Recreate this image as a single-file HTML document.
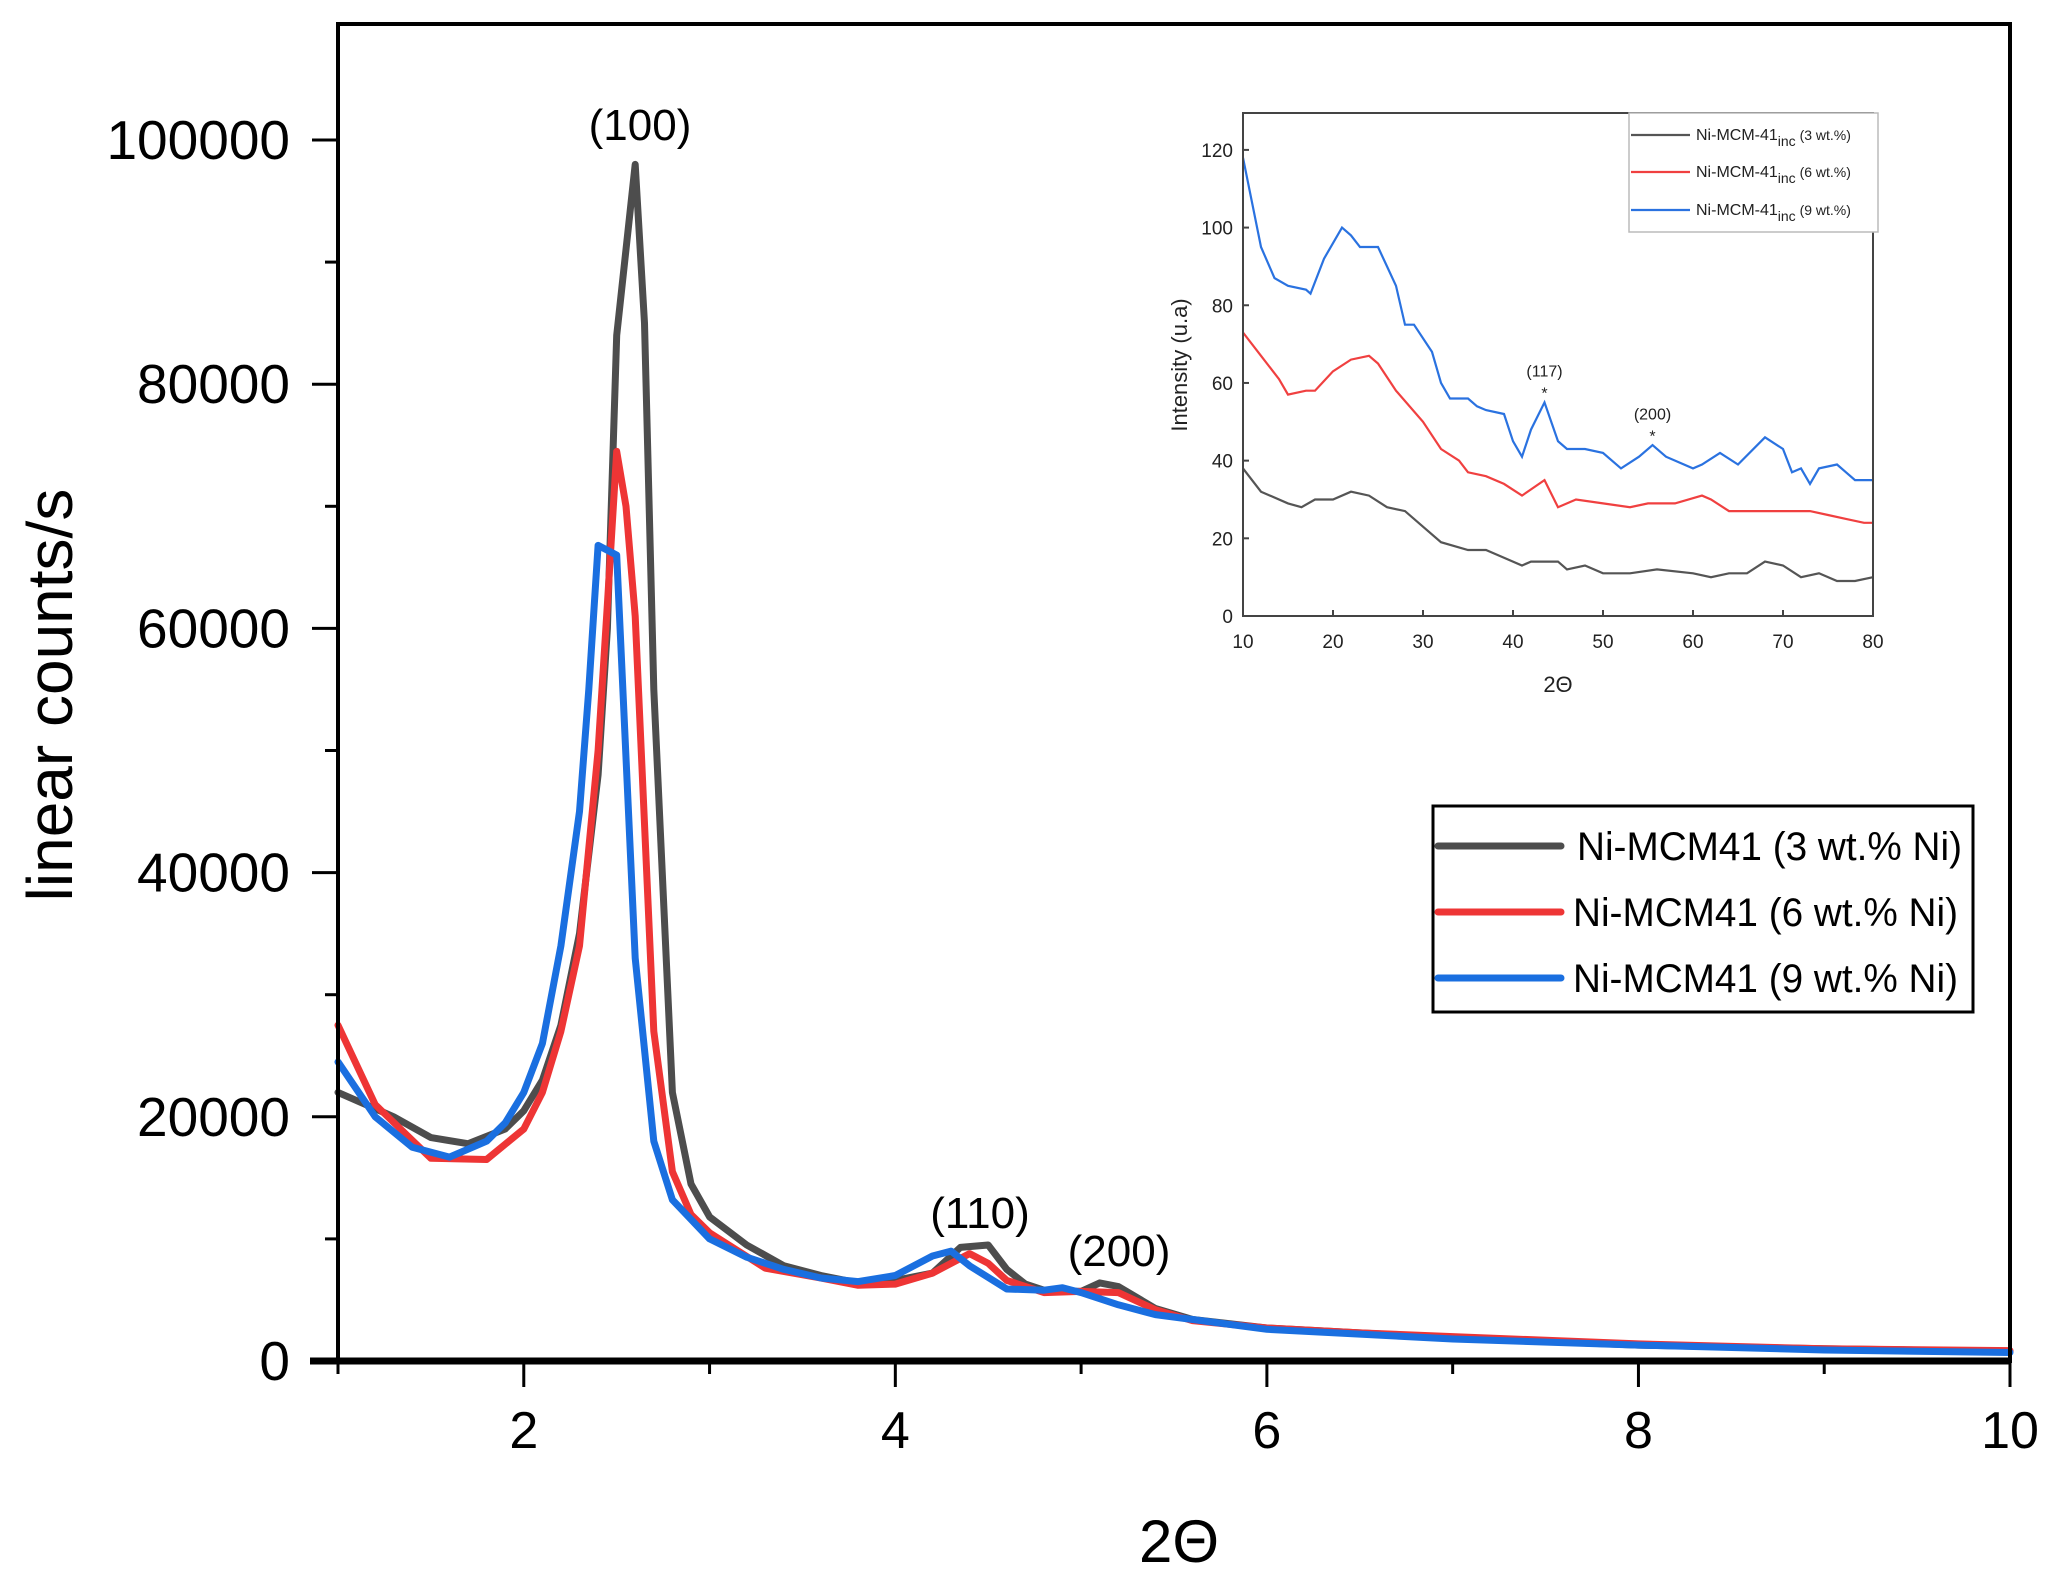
<!DOCTYPE html>
<html><head><meta charset="utf-8"><style>
html,body{margin:0;padding:0;background:#fff;}
svg{display:block;font-family:"Liberation Sans",Arial,sans-serif;}
</style></head><body>
<svg id="chart" width="2066" height="1582" viewBox="0 0 2066 1582" xmlns="http://www.w3.org/2000/svg"></svg>
<script>
// ---- Main chart data ----
const xTicks = [2, 4, 6, 8, 10];
const yTicks = [0, 20000, 40000, 60000, 80000, 100000];
const xBlack = [1.0,1.3,1.5,1.7,1.9,2.0,2.1,2.2,2.3,2.4,2.45,2.5,2.6,2.65,2.7,2.8,2.9,3.0,3.2,3.4,3.6,3.8,4.0,4.2,4.35,4.5,4.6,4.7,4.8,5.0,5.1,5.2,5.4,5.6,6.0,6.5,7.0,8.0,9.0,10.0];
const yBlack = [22000,20000,18300,17800,19000,20500,23000,27500,35000,48000,60000,84000,98000,85000,55000,22000,14500,11800,9500,7800,7000,6400,6600,7200,9300,9500,7500,6300,5800,5700,6400,6100,4300,3400,2700,2300,1900,1300,1000,800];
const xRed = [1.0,1.2,1.5,1.8,2.0,2.1,2.2,2.3,2.4,2.45,2.5,2.55,2.6,2.7,2.8,2.9,3.0,3.3,3.6,3.8,4.0,4.2,4.4,4.5,4.6,4.8,5.0,5.2,5.4,5.6,6.0,6.5,7.0,8.0,9.0,10.0];
const yRed = [27500,21000,16600,16500,19000,22000,27000,34000,50000,62000,74500,70000,61000,27000,15500,12000,10500,7600,6800,6200,6300,7200,8800,8000,6600,5600,5700,5600,4200,3300,2700,2300,2000,1400,1000,850];
const xBlue = [1.0,1.2,1.4,1.6,1.8,1.9,2.0,2.1,2.2,2.3,2.35,2.4,2.5,2.6,2.7,2.8,3.0,3.2,3.4,3.6,3.8,4.0,4.2,4.3,4.4,4.6,4.8,4.9,5.0,5.2,5.4,5.6,6.0,6.5,7.0,8.0,9.0,10.0];
const yBlue = [24500,20000,17500,16700,18000,19500,22000,26000,34000,45000,55000,66800,66000,33000,18000,13200,10000,8500,7500,6800,6500,7000,8600,9000,7800,5900,5800,6000,5600,4600,3800,3400,2600,2200,1800,1300,900,700];
const seriesNames = ["Ni-MCM41 (3 wt.% Ni)","Ni-MCM41 (6 wt.% Ni)","Ni-MCM41 (9 wt.% Ni)"];
// ---- Inset data ----
const inXTicks = [10,20,30,40,50,60,70,80];
const inYTicks = [0,20,40,60,80,100,120];
const inXBlue = [10,12,13.5,15,17,17.5,19,21,22,23,25,26,27,28,29,31,32,33,35,36,37,39,40,41,42,43.5,45,46,48,50,52,54,55.5,57,60,61,63,65,68,70,71,72,73,74,76,77,78,80];
const inYBlue = [118,95,87,85,84,83,92,100,98,95,95,90,85,75,75,68,60,56,56,54,53,52,45,41,48,55,45,43,43,42,38,41,44,41,38,39,42,39,46,43,37,38,34,38,39,37,35,35];
const inXRed = [10,12,14,15,17,18,20,22,24,25,27,30,32,34,35,37,39,41,43.5,45,47,50,53,55,58,61,62,64,67,70,73,75,77,79,80];
const inYRed = [73,67,61,57,58,58,63,66,67,65,58,50,43,40,37,36,34,31,35,28,30,29,28,29,29,31,30,27,27,27,27,26,25,24,24];
const inXBlack = [10,12,15,16.5,18,20,22,24,26,28,30,32,35,37,39,41,42,45,46,48,50,53,56,60,62,64,66,68,70,72,74,76,78,80];
const inYBlack = [38,32,29,28,30,30,32,31,28,27,23,19,17,17,15,13,14,14,12,13,11,11,12,11,10,11,11,14,13,10,11,9,9,10];
const inNames = ["3 wt.%","6 wt.%","9 wt.%"];

const NS="http://www.w3.org/2000/svg";
const svg=document.getElementById('chart');
function mk(tag,attrs,parent,text){const e=document.createElementNS(NS,tag);for(const k in attrs)e.setAttribute(k,attrs[k]);if(text!==undefined)e.textContent=text;(parent||svg).appendChild(e);return e;}

const L=338,R=2010,T=24,B=1361;
const xMin=1,xMax=10,yMax=109500;
const xs=v=>L+(v-xMin)/(xMax-xMin)*(R-L);
const ys=v=>B-v/yMax*(B-T);

const colors=["#4d4d4d","#ee3535","#1a6fe0"];
const xsArr=[xBlack,xRed,xBlue], ysArr=[yBlack,yRed,yBlue];
const seriesKeys=['series-3wt','series-6wt','series-9wt'];
for(let s=0;s<3;s++){
  const d=xsArr[s].map((x,i)=>(i?'L':'M')+xs(x).toFixed(1)+','+ys(ysArr[s][i]).toFixed(1)).join(' ');
  const p=mk('path',{d:d,fill:'none',stroke:colors[s],'stroke-width':7,'stroke-linejoin':'round','stroke-linecap':'round'});
  
  
}
const fr=mk('rect',{x:L,y:T,width:R-L,height:B-T,fill:'none',stroke:'#000','stroke-width':4});


const xa=mk('line',{x1:L-28,y1:B,x2:R,y2:B,stroke:'#000','stroke-width':7});


for(let v=1;v<=10;v++){
  const major=v%2===0;
  const t=mk('line',{x1:xs(v),y1:B,x2:xs(v),y2:B+(major?26:13),stroke:'#000','stroke-width':3});
  
  
}
xTicks.forEach(v=>{
  const t=mk('text',{x:xs(v),y:1448,'font-size':52,'text-anchor':'middle'},svg,String(v));
  
  
});
for(let v=0;v<=100000;v+=10000){
  const major=v%20000===0;
  const t=mk('line',{x1:L,y1:ys(v),x2:L-(major?26:13),y2:ys(v),stroke:'#000','stroke-width':3});
  
  
}
yTicks.forEach(v=>{
  const t=mk('text',{x:290,y:ys(v)+19,'font-size':55,'text-anchor':'end'},svg,String(v));
  
  
});
const xt=mk('text',{x:1179,y:1562,'font-size':60,'text-anchor':'middle'},svg,'2Θ');


const yt=mk('text',{x:0,y:0,'font-size':64,'text-anchor':'middle',transform:'translate(72,695) rotate(-90)'},svg,'linear counts/s');


[['(100)',640,140,'peak-label-100'],['(110)',980,1228,'peak-label-110'],['(200)',1119,1266,'peak-label-200']].forEach(a=>{
  const t=mk('text',{x:a[1],y:a[2],'font-size':44,'text-anchor':'middle'},svg,a[0]);
  
  
});
const lg=mk('g',{});


mk('rect',{x:1433,y:806,width:540,height:206,fill:'#fff',stroke:'#000','stroke-width':3},lg);
[846,912,978].forEach((yy,i)=>{
  const g=mk('g',{},lg);
  
  
  mk('line',{x1:1438,y1:yy,x2:1561,y2:yy,stroke:colors[i],'stroke-width':7,'stroke-linecap':'round'},g);
  mk('text',{x:i===0?1577:1573,y:yy+14,'font-size':40,textLength:385,lengthAdjust:'spacingAndGlyphs'},g,seriesNames[i]);
});

// ---- inset ----
const iL=1243,iR=1873,iT=113,iB=616,iMin=10,iMax=80,iYMax=129.5;
const ixs=v=>iL+(v-iMin)/(iMax-iMin)*(iR-iL);
const iys=v=>iB-v/iYMax*(iB-iT);
const inset=mk('g',{});


const icol=["#555","#f04040","#2a72e0"];
const ixA=[inXBlack,inXRed,inXBlue], iyA=[inYBlack,inYRed,inYBlue];
for(let s=0;s<3;s++){
  const d=ixA[s].map((x,i)=>(i?'L':'M')+ixs(x).toFixed(1)+','+iys(iyA[s][i]).toFixed(1)).join(' ');
  const p=mk('path',{d:d,fill:'none',stroke:icol[s],'stroke-width':2.2},inset);
  
  
}
mk('rect',{x:iL,y:iT,width:iR-iL,height:iB-iT,fill:'none',stroke:'#444','stroke-width':2},inset);
inXTicks.forEach(v=>{
  mk('line',{x1:ixs(v),y1:iB,x2:ixs(v),y2:iB-6,stroke:'#444','stroke-width':2},inset);
  const t=mk('text',{x:ixs(v),y:iB+32,'font-size':19,'text-anchor':'middle',fill:'#222'},inset,String(v));
  
  
});
inYTicks.forEach(v=>{
  mk('line',{x1:iL,y1:iys(v),x2:iL+6,y2:iys(v),stroke:'#444','stroke-width':2},inset);
  const t=mk('text',{x:iL-10,y:iys(v)+7,'font-size':19,'text-anchor':'end',fill:'#222'},inset,String(v));
  
  
});
const ixt=mk('text',{x:1558,y:692,'font-size':22,'text-anchor':'middle',fill:'#222'},inset,'2Θ');


const iyt=mk('text',{x:0,y:0,'font-size':22,'text-anchor':'middle',fill:'#222',transform:'translate(1187,365) rotate(-90)'},inset,'Intensity (u.a)');


[['(117)','*',43.5,57],['(200)','*',55.5,46]].forEach(a=>{
  const t=mk('text',{x:ixs(a[2]),y:iys(a[3])-18,'font-size':16,'text-anchor':'middle',fill:'#222'},inset,a[0]);
  
  
  mk('text',{x:ixs(a[2]),y:iys(a[3])+4,'font-size':16,'text-anchor':'middle',fill:'#222'},inset,a[1]);
});
const ilg=mk('g',{},inset);


mk('rect',{x:1629,y:113,width:249,height:119,fill:'#fff',stroke:'#bbb','stroke-width':1.5},ilg);
[135,172,210].forEach((yy,i)=>{
  mk('line',{x1:1631,y1:yy,x2:1690,y2:yy,stroke:icol[i],'stroke-width':2.2},ilg);
  const t=mk('text',{x:1696,y:yy+5,'font-size':16,fill:'#222'},ilg);
  t.appendChild(document.createTextNode('Ni-MCM-41'));
  const sub=document.createElementNS(NS,'tspan');sub.setAttribute('dy','6');sub.setAttribute('font-size','14');sub.textContent='inc';t.appendChild(sub);
  const rest=document.createElementNS(NS,'tspan');rest.setAttribute('dy','-6');rest.setAttribute('font-size','14');rest.textContent=' ('+inNames[i]+')';t.appendChild(rest);
});
</script>
</body></html>
